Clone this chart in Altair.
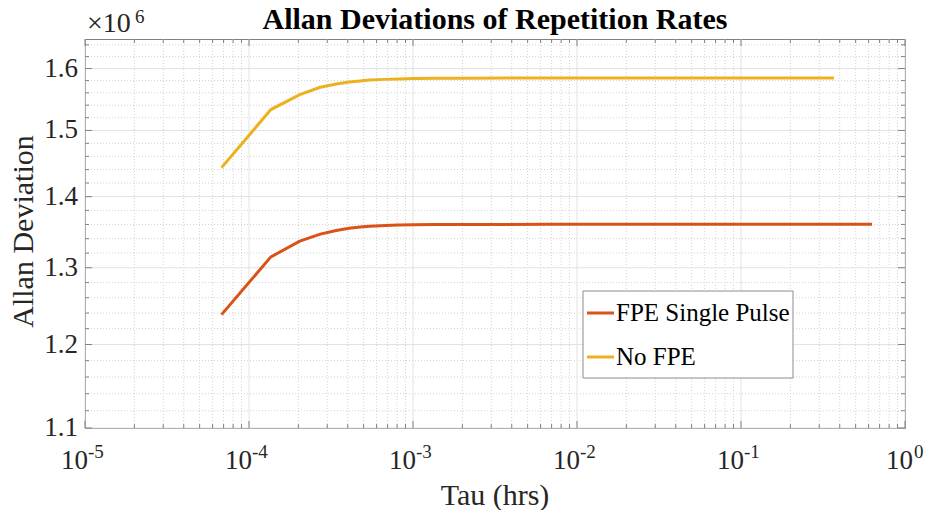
import altair as alt
import pandas as pd

# ---------------- data ----------------
title_text = "Allan Deviations of Repetition Rates"
x_title = "Tau (hrs)"
y_title = "Allan Deviation"
y_multiplier = "\u00d710"
y_multiplier_exp = "6"
series_names = ["FPE Single Pulse", "No FPE"]
series_colors = ["#D95319", "#EDB120"]

# averaging times (hours)
fpe_tau = [6.8e-5, 1.36e-4, 2.04e-4, 2.72e-4, 3.4e-4, 4.08e-4, 4.76e-4, 5.44e-4,
           6.8e-4, 8.16e-4, 1.02e-3, 1.36e-3, 2.04e-3, 6.8e-3, 0.629]
nofpe_tau = [6.8e-5, 1.36e-4, 2.04e-4, 2.72e-4, 3.4e-4, 4.08e-4, 4.76e-4, 5.44e-4,
             6.8e-4, 8.16e-4, 1.02e-3, 1.36e-3, 2.04e-3, 6.8e-3, 0.369]
# Allan deviations
fpe_adev = [1.238e6, 1.3148e6, 1.3365e6, 1.3463e6, 1.3515e6, 1.3545e6, 1.3563e6, 1.3575e6,
            1.3585e6, 1.3592e6, 1.3596e6, 1.3598e6, 1.3600e6, 1.3601e6, 1.3601e6]
nofpe_adev = [1.443e6, 1.533e6, 1.557e6, 1.569e6, 1.5745e6, 1.5775e6, 1.5795e6, 1.581e6,
              1.582e6, 1.5828e6, 1.5833e6, 1.5837e6, 1.5840e6, 1.5842e6, 1.5842e6]

# axis ticks
x_major = [1e-5, 1e-4, 1e-3, 1e-2, 1e-1, 1.0]
x_exps = ["-5", "-4", "-3", "-2", "-1", "0"]
x_minor = [m * d for d in x_major[:-1] for m in range(2, 10)]
y_major = [1.1e6, 1.2e6, 1.3e6, 1.4e6, 1.5e6, 1.6e6]
y_labels = ["1.1", "1.2", "1.3", "1.4", "1.5", "1.6"]
y_minor = [round(1.1e6 + 0.02e6 * i) for i in range(28)]
y_minor = [v for v in y_minor if all(abs(v - m) > 1 for m in y_major)]

# ---------------- layout / style ----------------
W, H = 820, 389
FONT = "Liberation Serif"
AXC = "#808080"
TXT = "#262626"
xs = alt.Scale(type="log", domain=[1e-5, 1.0], nice=False)
ys = alt.Scale(type="log", domain=[1.1e6, 1.65e6], nice=False)

lines_df = pd.concat([
    pd.DataFrame({"tau": fpe_tau, "adev": fpe_adev, "series": series_names[0]}),
    pd.DataFrame({"tau": nofpe_tau, "adev": nofpe_adev, "series": series_names[1]}),
])
xmaj_df = pd.DataFrame({"v": x_major, "base": "10", "exp": x_exps})
xmin_df = pd.DataFrame({"v": x_minor})
ymaj_df = pd.DataFrame({"v": y_major, "lab": y_labels})
ymin_df = pd.DataFrame({"v": y_minor})

# grid
gx_min = alt.Chart(xmin_df).mark_rule(color="#d2d2d2", strokeDash=[1, 2], strokeWidth=1).encode(
    x=alt.X("v:Q", scale=xs, axis=None), y=alt.value(0), y2=alt.value(H))
gy_min = alt.Chart(ymin_df).mark_rule(color="#d2d2d2", strokeDash=[1, 2], strokeWidth=1).encode(
    y=alt.Y("v:Q", scale=ys, axis=None), x=alt.value(0), x2=alt.value(W))
gx_maj = alt.Chart(xmaj_df).mark_rule(color="#e2e2e2", strokeWidth=1).encode(
    x=alt.X("v:Q", scale=xs, axis=None), y=alt.value(0), y2=alt.value(H))
gy_maj = alt.Chart(ymaj_df).mark_rule(color="#e2e2e2", strokeWidth=1).encode(
    y=alt.Y("v:Q", scale=ys, axis=None), x=alt.value(0), x2=alt.value(W))

# inward ticks (bottom/top, left/right)
def xticks(df, ln):
    b = alt.Chart(df).mark_rule(color=AXC, strokeWidth=1).encode(
        x=alt.X("v:Q", scale=xs, axis=None), y=alt.value(H), y2=alt.value(H - ln))
    t = alt.Chart(df).mark_rule(color=AXC, strokeWidth=1).encode(
        x=alt.X("v:Q", scale=xs, axis=None), y=alt.value(0), y2=alt.value(ln))
    return b + t

def yticks(df, ln):
    l = alt.Chart(df).mark_rule(color=AXC, strokeWidth=1).encode(
        y=alt.Y("v:Q", scale=ys, axis=None), x=alt.value(0), x2=alt.value(ln))
    r = alt.Chart(df).mark_rule(color=AXC, strokeWidth=1).encode(
        y=alt.Y("v:Q", scale=ys, axis=None), x=alt.value(W), x2=alt.value(W - ln))
    return l + r

# data lines
lines = alt.Chart(lines_df).mark_line(strokeWidth=3).encode(
    x=alt.X("tau:Q", scale=xs, axis=None),
    y=alt.Y("adev:Q", scale=ys, axis=None),
    color=alt.Color("series:N", scale=alt.Scale(domain=series_names, range=series_colors),
                    legend=None),
    order=alt.Order("tau:Q"),
)

# y tick labels
ylab = alt.Chart(ymaj_df).mark_text(align="right", baseline="middle", font=FONT, fontSize=27,
                                    color=TXT).encode(
    y=alt.Y("v:Q", scale=ys, axis=None), x=alt.value(-7), text="lab:N")

# x tick labels 10^k (whole label centred on its tick)
def xlabels(filt, dx_base, dx_exp):
    base = alt.Chart(xmaj_df).transform_filter(filt).mark_text(
        align="right", baseline="alphabetic", dx=dx_base, font=FONT, fontSize=27, color=TXT).encode(
        x=alt.X("v:Q", scale=xs, axis=None), y=alt.value(H + 41), text="base:N")
    exp = alt.Chart(xmaj_df).transform_filter(filt).mark_text(
        align="left", baseline="alphabetic", dx=dx_exp, font=FONT, fontSize=19, color=TXT).encode(
        x=alt.X("v:Q", scale=xs, axis=None), y=alt.value(H + 29.5), text="exp:N")
    return base + exp

xlab_neg = xlabels("datum.exp != '0'", 3, 3)
xlab_zero = xlabels("datum.exp == '0'", 8, 9)

def label(text, x, y, size, **kw):
    return alt.Chart(pd.DataFrame({"t": [text]})).mark_text(font=FONT, fontSize=size, **kw).encode(
        x=alt.value(x), y=alt.value(y), text="t:N")

title_mark = label(title_text, W / 2, -10, 30, fontWeight="bold", color="#000000",
                   align="center", baseline="alphabetic")
xtitle_mark = label(x_title, W / 2, H + 77, 30, color=TXT, align="center", baseline="alphabetic")
ytitle_mark = label(y_title, -52, H / 2 - 2, 30, color=TXT, align="center", baseline="alphabetic",
                    angle=270)
mult_mark = label(y_multiplier, 2, -7, 28, color=TXT, align="left", baseline="alphabetic")
mult_exp = label(y_multiplier_exp, 50, -16.5, 19, color=TXT, align="left", baseline="alphabetic")

# legend (box, line samples, labels)
leg_box = alt.Chart(pd.DataFrame({"a": [0]})).mark_rect(
    fill="#ffffff", stroke="#8c8c8c", strokeWidth=1).encode(
    x=alt.value(498), x2=alt.value(708), y=alt.value(252), y2=alt.value(339))
leg_items = []
for i, (name, col) in enumerate(zip(series_names, series_colors)):
    yy = 274 + 44 * i
    leg_items.append(alt.Chart(pd.DataFrame({"t": [name]})).mark_rule(
        color=col, strokeWidth=3).encode(x=alt.value(502), x2=alt.value(529), y=alt.value(yy)))
    leg_items.append(label(name, 531, yy, 25, color="#000000", align="left", baseline="middle"))

chart = alt.layer(
    gx_min, gy_min, gx_maj, gy_maj,
    xticks(xmin_df, 4), xticks(xmaj_df, 7), yticks(ymin_df, 4), yticks(ymaj_df, 7),
    lines, ylab, xlab_neg, xlab_zero, title_mark, xtitle_mark, ytitle_mark, mult_mark, mult_exp,
    leg_box, *leg_items,
).properties(
    width=W, height=H,
    autosize=alt.AutoSizeParams(type="none"),
    padding={"left": 85, "top": 39, "right": 22, "bottom": 82},
    background="#ffffff",
).configure_view(stroke=AXC, strokeWidth=1)

chart.save("out.html", embed_options={"renderer": "svg", "actions": False})
